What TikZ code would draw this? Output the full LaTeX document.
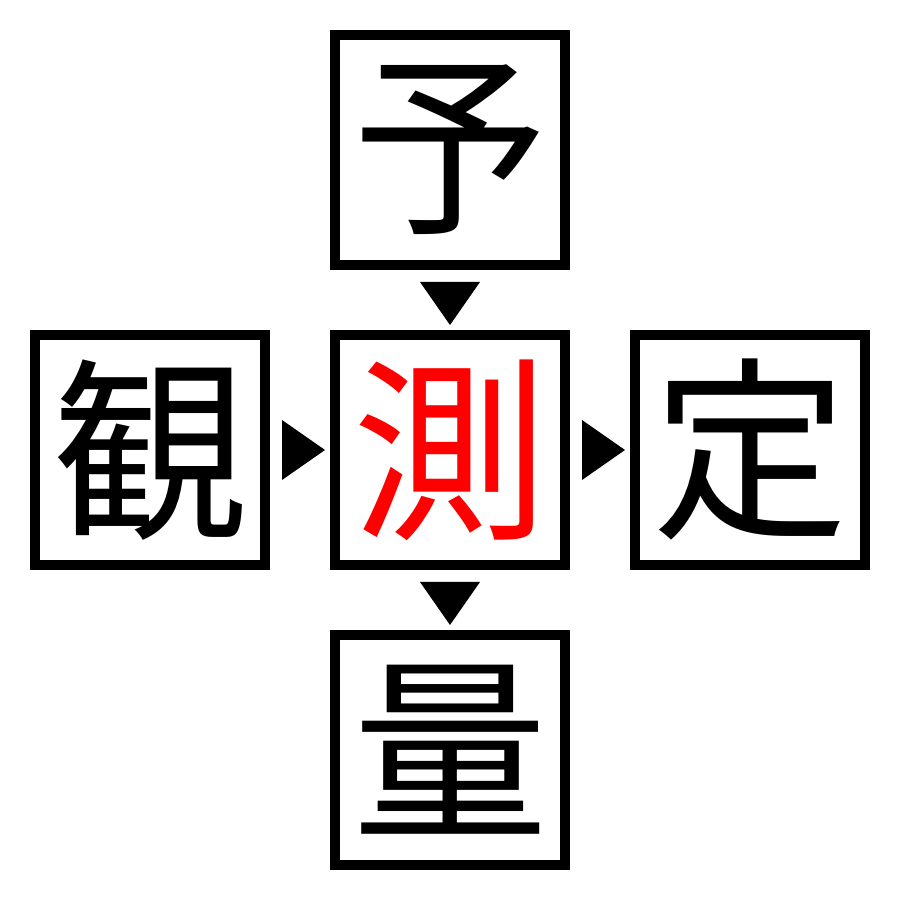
\documentclass[tikz,border=0pt]{standalone}
\usepackage{fontspec}
\newfontfamily\cjk{Noto Sans CJK JP}
\usetikzlibrary{calc}
\tikzset{
  kbox/.style={draw=black, line width=10pt, minimum width=230pt, minimum height=230pt, inner sep=0pt,
    font=\cjk\fontsize{196}{196}\selectfont},
  tri/.style={fill=black},
}
\begin{document}
\begin{tikzpicture}[x=1pt,y=1pt]
\useasboundingbox (0,0) rectangle (900,900);
\node[kbox] (top) at (450,750) {予};
\node[kbox] (mid) at (450,450) {\textcolor{red}{測}};
\node[kbox] (lft) at (150,450) {観};
\node[kbox] (rgt) at (750,450) {定};
\node[kbox] (bot) at (450,150) {量};
\fill[tri] ($(top.south)+(-30,-12)$) -- ($(top.south)+(30,-12)$) -- ($(mid.north)+(0,5)$) -- cycle;
\fill[tri] ($(mid.south)+(-30,-12)$) -- ($(mid.south)+(30,-12)$) -- ($(bot.north)+(0,5)$) -- cycle;
\fill[tri] ($(lft.east)+(12,30)$) -- ($(lft.east)+(12,-30)$) -- ($(mid.west)+(-5,0)$) -- cycle;
\fill[tri] ($(mid.east)+(12,30)$) -- ($(mid.east)+(12,-30)$) -- ($(rgt.west)+(-5,0)$) -- cycle;
\end{tikzpicture}
\end{document}
